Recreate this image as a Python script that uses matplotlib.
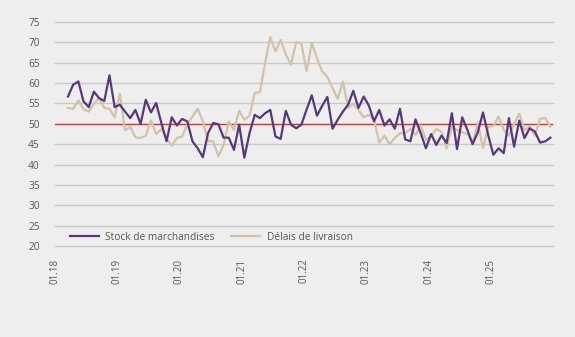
import matplotlib
matplotlib.use("Agg")
import matplotlib.pyplot as plt
import numpy as np

# Monthly data, March 2018 - December 2025
stock = [56.7, 59.6, 60.4, 55.5, 54.1, 57.9, 56.3, 55.6, 61.9, 54.1,
         54.7, 53.0, 51.4, 53.4, 50.0, 55.9, 52.8, 55.1, 50.2, 45.7,
         51.6, 49.6, 51.2, 50.6, 45.7, 44.0, 41.8, 47.7, 50.2, 49.9,
         46.6, 46.6, 43.6, 49.8, 41.7, 47.7, 52.2, 51.4, 52.6, 53.4,
         46.9, 46.3, 53.2, 49.8, 48.9, 49.8, 53.5, 57.0, 52.0, 54.4,
         56.6, 48.8, 51.0, 53.0, 54.7, 58.1, 53.9, 56.7, 54.5, 50.6,
         53.4, 49.6, 51.1, 48.8, 53.7, 46.2, 45.7, 51.1, 47.7, 44.0,
         47.5, 44.8, 47.1, 45.3, 52.6, 43.8, 51.6, 48.5, 45.0, 47.9,
         52.8, 47.3, 42.4, 44.0, 42.8, 51.4, 44.4, 50.8, 46.5, 48.9,
         48.1, 45.4, 45.7, 46.6]
delais = [53.9, 53.7, 55.7, 53.6, 53.0, 55.0, 56.3, 53.9, 53.7, 51.6,
          57.4, 48.4, 49.3, 46.7, 46.5, 47.1, 50.8, 47.5, 48.7, 46.5,
          44.6, 46.5, 46.9, 49.8, 51.8, 53.7, 50.6, 45.8, 45.7, 42.0,
          44.8, 50.6, 48.5, 53.2, 51.0, 52.0, 57.6, 57.8, 64.9, 71.3,
          67.8, 70.6, 67.0, 64.5, 70.1, 69.7, 62.9, 69.8, 66.1, 62.9,
          61.5, 58.8, 56.1, 60.4, 54.0, 54.9, 53.4, 51.6, 52.2, 51.0,
          45.4, 47.1, 45.0, 46.5, 47.7, 47.7, 48.8, 47.3, 49.6, 46.1,
          46.9, 48.7, 48.1, 44.0, 49.3, 48.5, 47.9, 47.5, 45.3, 50.3,
          44.0, 49.2, 49.5, 51.8, 48.5, 47.1, 50.0, 52.5, 48.5, 49.3,
          47.1, 51.2, 51.4, 49.3]
tick_labels = ["01.18", "01.19", "01.20", "01.21", "01.22", "01.23", "01.24", "01.25"]
series_names = ["Stock de marchandises", "Délais de livraison"]
start_month = 2  # March 2018, months counted from January 2018

bg = "#eeeeee"
fig = plt.figure(figsize=(5.75, 3.37), dpi=100, facecolor=bg)
ax = fig.add_axes([55/575, 1-246/337, 498/575, 224/337], facecolor=bg)

x = start_month + np.arange(len(stock)) + 0.5
ax.plot(x, stock, color="#583877", lw=1.6, label=series_names[0], zorder=4)
ax.plot(x, delais, color="#d3c2ab", lw=1.6, label=series_names[1], zorder=3)
ax.axhline(50, color="#e8312f", lw=1.0, zorder=2)

ax.set_xlim(0, 96)
ax.set_ylim(20, 75)
ax.set_yticks(np.arange(20, 76, 5))
ax.set_xticks(np.arange(len(tick_labels)) * 12)
ax.set_xticklabels(tick_labels, rotation=90, va="top")
ax.grid(axis="y", color="#c9c9c9", lw=1.0, zorder=1)
ax.grid(axis="x", visible=False)
for gl in ax.get_ygridlines():
    gl.set_clip_on(False)
for s in ax.spines.values():
    s.set_visible(False)
ax.tick_params(axis="both", length=0, labelsize=7.3, labelcolor="#555555")
ax.tick_params(axis="y", pad=11)
ax.tick_params(axis="x", pad=9, labelsize=7.0)
for lab in ax.get_xticklabels() + ax.get_yticklabels():
    lab.set_fontfamily("Open Sans")

leg = ax.legend(loc="center left", bbox_to_anchor=(0.03, 0.04), ncol=2,
                frameon=False, handlelength=2.9, handletextpad=0.6,
                columnspacing=1.6, borderpad=0, borderaxespad=0,
                prop={"family": "Open Sans", "size": 7.3})
for t in leg.get_texts():
    t.set_color("#555555")

fig.savefig("out.png", dpi=100, facecolor=bg)
